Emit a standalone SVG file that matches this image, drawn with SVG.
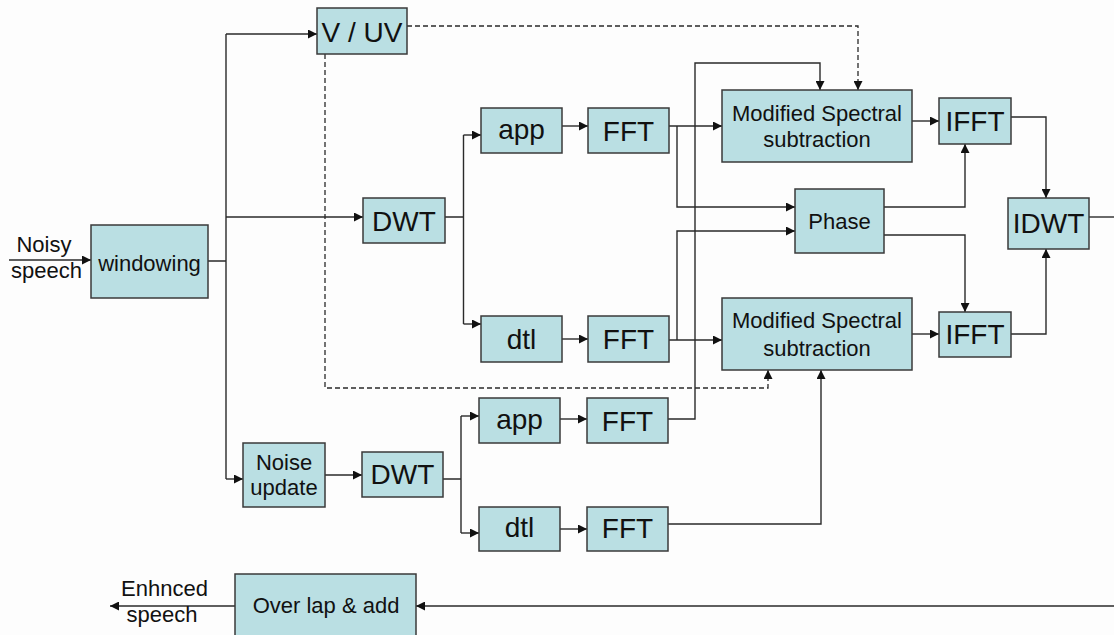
<svg xmlns="http://www.w3.org/2000/svg" width="1114" height="635" viewBox="0 0 1114 635">
<style>
.box{fill:#BADFE3;stroke:#3a3a3a;stroke-width:1.5}
.t{font-family:"Liberation Sans",Arial,sans-serif;fill:#111;text-anchor:middle}
.s{font-size:22px}
.l{font-size:28px}
.c{fill:none;stroke:#2a2a2a;stroke-width:1.4}
.d{fill:none;stroke:#2a2a2a;stroke-width:1.3;stroke-dasharray:5,3}
</style>
<defs>
<marker id="a" markerUnits="userSpaceOnUse" markerWidth="10" markerHeight="9" refX="9" refY="4.5" orient="auto">
<path d="M0,0 L9,4.5 L0,9 z" fill="#111"/>
</marker>
</defs>
<rect width="1114" height="635" fill="#fdfdfd"/>
<g id="connectors">
<path class="c" d="M9,260 H91" marker-end="url(#a)"/>
<path class="c" d="M208,261 H226 M226,34 V479"/>
<path class="c" d="M226,34 H317" marker-end="url(#a)"/>
<path class="c" d="M226,217 H363" marker-end="url(#a)"/>
<path class="c" d="M226,479 H243" marker-end="url(#a)"/>
<path class="c" d="M325,475 H362" marker-end="url(#a)"/>
<path class="c" d="M445,217 H463.5 M463.5,135 V324"/>
<path class="c" d="M463.5,135 H481" marker-end="url(#a)"/>
<path class="c" d="M463.5,324 H481" marker-end="url(#a)"/>
<path class="c" d="M562,126 H588" marker-end="url(#a)"/>
<path class="c" d="M562,339 H588" marker-end="url(#a)"/>
<path class="c" d="M669,126 H722" marker-end="url(#a)"/>
<path class="c" d="M677,126 V207 H795" marker-end="url(#a)"/>
<path class="c" d="M669,340 H722" marker-end="url(#a)"/>
<path class="c" d="M677,340 V231 H795" marker-end="url(#a)"/>
<path class="c" d="M443,479 H461 M461,416 V533"/>
<path class="c" d="M461,416 H479" marker-end="url(#a)"/>
<path class="c" d="M461,533 H479" marker-end="url(#a)"/>
<path class="c" d="M560,419 H587" marker-end="url(#a)"/>
<path class="c" d="M560,529 H587" marker-end="url(#a)"/>
<path class="c" d="M668,419 H695 V63 H820 V90" marker-end="url(#a)"/>
<path class="c" d="M668,524 H821 V370" marker-end="url(#a)"/>
<path class="c" d="M912,121 H939" marker-end="url(#a)"/>
<path class="c" d="M912,334 H939" marker-end="url(#a)"/>
<path class="c" d="M884,207 H965 V144" marker-end="url(#a)"/>
<path class="c" d="M884,235 H965 V312" marker-end="url(#a)"/>
<path class="c" d="M1011,117 H1046 V198" marker-end="url(#a)"/>
<path class="c" d="M1011,334 H1046 V249" marker-end="url(#a)"/>
<path class="c" d="M1089,217 H1114"/>
<path class="c" d="M1114,606 H416" marker-end="url(#a)"/>
<path class="c" d="M235,606 H110" marker-end="url(#a)"/>
<path class="d" d="M407,26 H858 V90" marker-end="url(#a)"/>
<path class="d" d="M325,54 V388 H768 V370" marker-end="url(#a)"/>
</g>
<g id="windowing"><rect class="box" x="91" y="225" width="117" height="73"/><text class="t s" x="149.5" y="271">windowing</text></g>
<g id="vuv"><rect class="box" x="317" y="8" width="90" height="46"/><text class="t l" x="362" y="42">V / UV</text></g>
<g id="dwt1"><rect class="box" x="363" y="198" width="82" height="45"/><text class="t l" x="404" y="231">DWT</text></g>
<g id="app1"><rect class="box" x="481" y="108" width="81" height="45"/><text class="t l" x="521.5" y="139">app</text></g>
<g id="fft1"><rect class="box" x="588" y="108" width="81" height="45"/><text class="t l" x="628.5" y="141">FFT</text></g>
<g id="dtl1"><rect class="box" x="481" y="316" width="81" height="46"/><text class="t l" x="521.5" y="349">dtl</text></g>
<g id="fft2"><rect class="box" x="588" y="316" width="81" height="46"/><text class="t l" x="628.5" y="349">FFT</text></g>
<g id="mss1"><rect class="box" x="722" y="90" width="190" height="72"/><text class="t s" x="817" y="121">Modified Spectral</text><text class="t s" x="817" y="147">subtraction</text></g>
<g id="phase"><rect class="box" x="795" y="189" width="89" height="64"/><text class="t s" x="839.5" y="229">Phase</text></g>
<g id="mss2"><rect class="box" x="722" y="298" width="190" height="72"/><text class="t s" x="817" y="328">Modified Spectral</text><text class="t s" x="817" y="356">subtraction</text></g>
<g id="ifft1"><rect class="box" x="939" y="98" width="72" height="46"/><text class="t l" x="975" y="131">IFFT</text></g>
<g id="ifft2"><rect class="box" x="939" y="312" width="72" height="45"/><text class="t l" x="975" y="344">IFFT</text></g>
<g id="idwt"><rect class="box" x="1008" y="198" width="81" height="51"/><text class="t l" x="1048.5" y="233">IDWT</text></g>
<g id="noise"><rect class="box" x="243" y="443" width="82" height="64"/><text class="t s" x="284" y="470">Noise</text><text class="t s" x="284" y="495">update</text></g>
<g id="dwt2"><rect class="box" x="362" y="452" width="81" height="45"/><text class="t l" x="402.5" y="484">DWT</text></g>
<g id="app2"><rect class="box" x="479" y="398" width="81" height="45"/><text class="t l" x="519.5" y="429">app</text></g>
<g id="fft3"><rect class="box" x="587" y="398" width="81" height="45"/><text class="t l" x="627.5" y="431">FFT</text></g>
<g id="dtl2"><rect class="box" x="479" y="507" width="81" height="44"/><text class="t l" x="519.5" y="537">dtl</text></g>
<g id="fft4"><rect class="box" x="587" y="507" width="81" height="44"/><text class="t l" x="627.5" y="538">FFT</text></g>
<g id="overlap"><rect class="box" x="235" y="574" width="181" height="70"/><text class="t s" x="326" y="613">Over lap &amp; add</text></g>
<g id="input"><text class="t s" x="44" y="252">Noisy</text><text class="t s" x="46.5" y="278">speech</text></g>
<g id="output"><text class="t s" x="164.5" y="596">Enhnced</text><text class="t s" x="162" y="622">speech</text></g>
</svg>
